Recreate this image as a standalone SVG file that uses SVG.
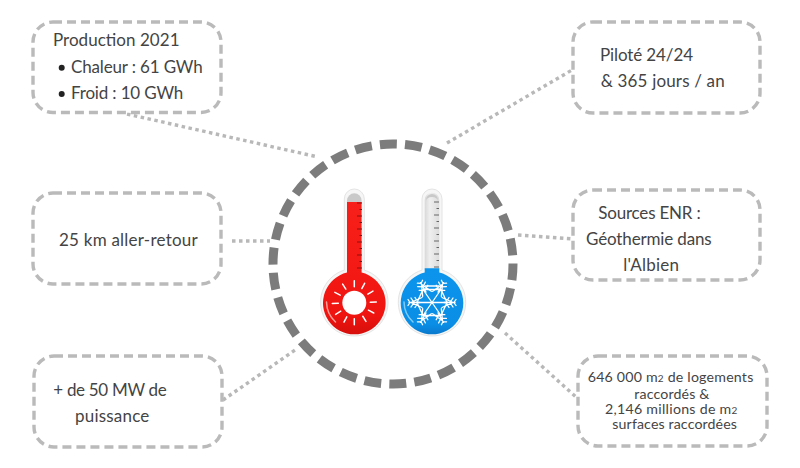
<svg xmlns="http://www.w3.org/2000/svg" width="800" height="468" viewBox="0 0 800 468">
<style>
.box{fill:#fff;stroke:#bababa;stroke-width:3.4;stroke-dasharray:9 5}
.link{fill:none;stroke:#b8b8b8;stroke-width:3.4;stroke-dasharray:3.5 3.5}
.ring{fill:none;stroke:#7c7c7c;stroke-width:9;stroke-dasharray:17 8.133;stroke-dashoffset:.8}
text{font-family:"Lato","Noto Sans",sans-serif;font-size:17px;fill:#444}
.s{font-size:14.2px}
.m{font-size:10px}
.bullet{fill:#222}
.tube{fill:#f6f6f6;stroke:#e4e4e4;stroke-width:1}
.cap{fill:#c9c9c9}
.tick{fill:none;stroke-width:1}
.w{stroke:#fff;fill:none;stroke-linecap:round}
.hi{fill:none;stroke-width:1.500;stroke-linecap:round}
</style>
<defs>
<linearGradient id="redg" x1="0" y1="0" x2="0" y2="1"><stop offset="0" stop-color="#f8201a"/><stop offset=".85" stop-color="#f01410"/><stop offset="1" stop-color="#d60f0c"/></linearGradient>
<linearGradient id="blueg" x1="0" y1="0" x2="0" y2="1"><stop offset="0" stop-color="#0c94ec"/><stop offset=".85" stop-color="#0a8ee6"/><stop offset="1" stop-color="#0a78cc"/></linearGradient>
<linearGradient id="glassg" x1="0" y1="0" x2="1" y2="0"><stop offset="0" stop-color="#d8d8d8"/><stop offset=".35" stop-color="#efefef"/><stop offset="1" stop-color="#dcdcdc"/></linearGradient>
<path id="scale" d="M0 0h5M2.500 6.500h2.500M0 13h5M2.500 19.500h2.500M0 26h5M2.500 32.500h2.500M0 39h5M2.500 45.500h2.500M0 52h5M2.500 58.500h2.500M0 65h5"/>
<g id="arm"><path class="w" stroke-width="1.300" d="M-5 -10L0 -21L5 -10M0 -12V-23M-4.500 -21l4.500 3l4.500 -3M-5 -17l5 3l5 -3M-3 -24l3 2l3 -2"/></g>
<path id="ray" class="w" stroke-width="1.500" d="M0 -16V-22"/>
</defs>
<g id="connectors">
<path class="link" d="M127 114L318 157"/>
<path class="link" d="M232 241H270"/>
<path class="link" d="M223 400L295 350"/>
<path class="link" d="M447 143L572 70"/>
<path class="link" d="M518 235L573 239"/>
<path class="link" d="M505 333L576 397"/>
</g>
<g id="ring"><circle class="ring" cx="393" cy="264" r="120"/></g>
<g id="node-production"><rect class="box" x="33" y="22" width="188" height="90.500" rx="20"/>
<text x="53" y="46" textLength="126.500">Production 2021</text>
<circle class="bullet" cx="61.700" cy="67.700" r="3"/><text x="71" y="72.700" textLength="131.700">Chaleur : 61 GWh</text>
<circle class="bullet" cx="61.700" cy="94" r="3"/><text x="71" y="99" textLength="112.300">Froid : 10 GWh</text></g>
<g id="node-pilote"><rect class="box" x="573" y="22" width="187" height="91" rx="20"/>
<text x="600" y="61" textLength="93">Piloté 24/24</text><text x="600.700" y="87.300" textLength="124">&amp; 365 jours / an</text></g>
<g id="node-km"><rect class="box" x="33" y="193" width="188" height="91" rx="20"/>
<text x="59" y="245.700" textLength="138.700">25 km aller-retour</text></g>
<g id="node-enr"><rect class="box" x="573" y="190" width="187" height="90" rx="20"/>
<text x="598.300" y="219.300" textLength="102.400">Sources ENR :</text><text x="586" y="245" textLength="125.700">Géothermie dans</text><text x="623.300" y="270.700" textLength="55.700">l'Albien</text></g>
<g id="node-mw"><rect class="box" x="34" y="356" width="188" height="91" rx="20"/>
<text x="53.300" y="395.700" textLength="113.400">+ de 50 MW de</text><text x="75" y="422.300" textLength="74.300">puissance</text></g>
<g id="node-surfaces"><rect class="box" x="578" y="356" width="189" height="90" rx="20"/>
<text class="s" x="587.700" y="382" textLength="165.600">646 000 m<tspan class="m">2</tspan> de logements</text>
<text class="s" x="634.300" y="398.700" textLength="75">raccordés &amp;</text>
<text class="s" x="605" y="413.500" textLength="132.300">2,146 millions de m<tspan class="m">2</tspan></text>
<text class="s" x="612.300" y="428.500" textLength="124.700">surfaces raccordées</text></g>
<g id="thermo-hot">
<path class="tube" d="M344.300 270.100V199a10 10 0 0 1 20 0V270.100a33.700 33.700 0 1 1 -20 0z"/>
<path class="cap" d="M347 202V200.600a7.300 7.300 0 0 1 14.600 0V202z"/>
<path d="M347 272.600V202h14.600V272.600a31.300 31.300 0 1 1 -14.600 0z" fill="url(#redg)"/>
<use href="#scale" class="tick" x="357" y="203" stroke="#8a1010"/>
<path class="hi" stroke="#ff9d96" d="M326.500 302a28 28 0 0 0 9 20"/>
<circle cx="354.300" cy="302.700" r="12" fill="#fff"/>
<g transform="translate(354.300 302.700)">
<use href="#ray" transform="rotate(0)"/><use href="#ray" transform="rotate(28)"/><use href="#ray" transform="rotate(58)"/><use href="#ray" transform="rotate(88)"/><use href="#ray" transform="rotate(118)"/><use href="#ray" transform="rotate(148)"/><use href="#ray" transform="rotate(180)"/><use href="#ray" transform="rotate(208)"/><use href="#ray" transform="rotate(238)"/><use href="#ray" transform="rotate(268)"/><use href="#ray" transform="rotate(298)"/><use href="#ray" transform="rotate(328)"/>
</g>
</g>
<g id="thermo-cold">
<path class="tube" d="M422 270.100V199a10 10 0 0 1 20 0V270.100a33.700 33.700 0 1 1 -20 0z"/>
<path d="M424.700 270V200a7.300 7.300 0 0 1 14.600 0V270z" fill="url(#glassg)"/>
<path class="cap" d="M426 201V200a6 6 0 0 1 12 0V201a6 4 0 0 0 -12 0z"/>
<path d="M424.700 268.300h14.600V272.600a31.300 31.300 0 1 1 -14.600 0z" fill="url(#blueg)"/>
<use href="#scale" class="tick" x="434" y="202" stroke="#666"/>
<path class="hi" stroke="#7fcbf6" d="M404 302a28 28 0 0 0 9 20"/>
<g transform="translate(432 302.500)">
<use href="#arm" transform="rotate(30)"/><use href="#arm" transform="rotate(90)"/><use href="#arm" transform="rotate(150)"/><use href="#arm" transform="rotate(210)"/><use href="#arm" transform="rotate(270)"/><use href="#arm" transform="rotate(330)"/>
<path class="w" stroke-width="1.300" d="M-9 -13H9L15 0L9 13H-9L-15 0zM-9 -13L9 13M9 -13L-9 13M-15 0H15M-7 -16.500H7"/>
</g>
</g>
</svg>
